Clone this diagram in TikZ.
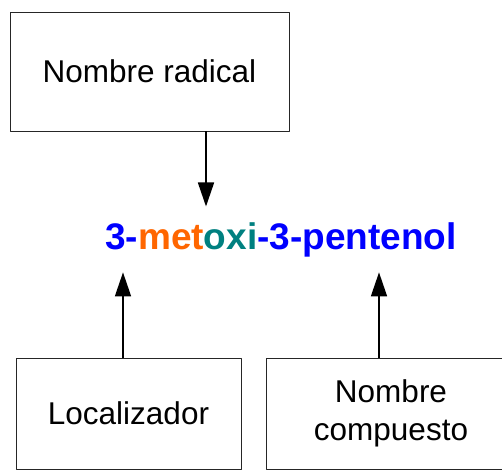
\documentclass[tikz,border=0pt]{standalone}
\usepackage{fontspec}
\setmainfont{Liberation Sans}
\usetikzlibrary{arrows.meta}
\definecolor{nblue}{RGB}{0,0,255}
\definecolor{norange}{RGB}{255,102,0}
\definecolor{nteal}{RGB}{0,128,128}
\begin{document}
\begin{tikzpicture}[x=1pt, y=-1pt, line join=round, >={Triangle[length=24pt,width=16pt]}]
	\tikzset{caja/.style={draw=black!85, line width=0.9pt, inner sep=0pt, align=center, font=\fontsize{31.5}{38}\selectfont}}
	\tikzset{flecha/.style={->, line width=1.6pt}}
	\clip (0,0) rectangle (502,471);
	\node[caja, minimum width=279pt, minimum height=119pt] (radical) at (149.5,71.5) {Nombre radical};
	\node[caja, minimum width=225pt, minimum height=111pt] (local) at (128.5,413.5) {Localizador};
	\node[caja, minimum width=250pt, minimum height=111pt] (comp) at (391,413.5) {Nombre\\compuesto};
	\node[anchor=base, inner xsep=0pt, inner ysep=15.5pt, text=nblue, font=\fontsize{37}{44}\selectfont\bfseries] (nombre) at (281,249)
		{3-\textcolor{norange}{met}\textcolor{nteal}{oxi}-3-pentenol};
	\coordinate (xr) at (206,0);
	\coordinate (xl) at (123,0);
	\coordinate (xc) at (379,0);
	\draw[flecha] (radical.south -| xr) -- (nombre.north -| xr);
	\draw[flecha] (local.north -| xl) -- (nombre.south -| xl);
	\draw[flecha] (comp.north -| xc) -- (nombre.south -| xc);
\end{tikzpicture}
\end{document}
